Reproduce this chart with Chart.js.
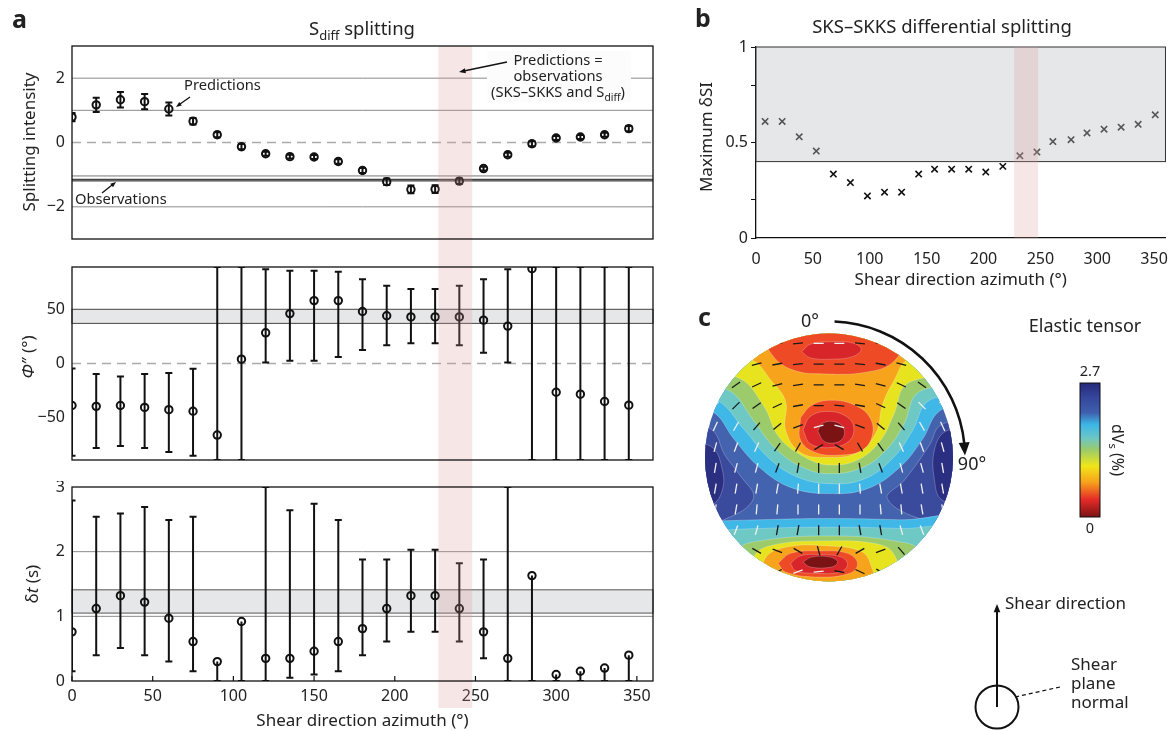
<!DOCTYPE html>
<html>
<head>
<meta charset="utf-8">
<script src="https://cdn.jsdelivr.net/npm/chart.js@4.4.1/dist/chart.umd.min.js"></script>
<style>
  body { margin: 0; width: 1172px; height: 731px; background: #fff; position: relative; overflow: hidden; }
  canvas { position: absolute; }
</style>
</head>
<body>
<canvas id="siChart" width="665" height="261" style="left:0;top:0"></canvas>
<canvas id="phiChart" width="665" height="220" style="left:0;top:261px"></canvas>
<canvas id="dtChart" width="665" height="250" style="left:0;top:481px"></canvas>
<canvas id="dsiChart" width="482" height="300" style="left:690px;top:0"></canvas>
<canvas id="tensorChart" width="482" height="431" style="left:690px;top:300px"></canvas>
<script>
// ---- data ----
const azimuth = [0, 15, 30, 45, 60, 75, 90, 105, 120, 135, 150, 165, 180, 195, 210, 225, 240, 255, 270, 285, 300, 315, 330, 345];
const xTicks = [0, 50, 100, 150, 200, 250, 300, 350];

// a, top: splitting intensity predictions
const siPred = [0.79, 1.17, 1.33, 1.27, 1.04, 0.66, 0.24, -0.13, -0.35, -0.44, -0.45, -0.59, -0.87, -1.22, -1.46, -1.45, -1.2, -0.81, -0.38, -0.04, 0.14, 0.17, 0.24, 0.43];
const siErr = [0.13, 0.22, 0.24, 0.24, 0.2, 0.1, 0.08, 0.08, 0.06, 0.06, 0.06, 0.07, 0.08, 0.1, 0.12, 0.12, 0.08, 0.06, 0.06, 0.08, 0.06, 0.06, 0.06, 0.08];
const siObs = [-1.04, -1.15, -1.19];
const siTicks = [-2, 0, 2];

// a, middle: phi''
const phiPred = [-38.7, -39.5, -38.7, -40.5, -42.6, -44, -66, 4, 28.3, 46, 58, 58, 48, 44, 43, 43, 43, 40, 34.5, 87.5, -26.5, -28.3, -35, -38.4];
const phiLow = [-85, -78, -76, -78, -81.6, -85, -89, -89, 1, 2.5, 2.5, 6, 12.5, 16.8, 18.6, 18.6, 16.8, 9.8, 1, -89, -89, -89, -89, -89];
const phiHigh = [-4.6, -9.7, -12, -9.7, -8.8, -4.8, 89, 89, 87, 85.6, 85.6, 84.7, 77.7, 71.6, 68.6, 68.6, 71.6, 77.7, 87, 89, 89, 89, 89, 89];
const phiObs = [37, 50];
const phiTicks = [-50, 0, 50];

// a, bottom: delay time
const dtPred = [0.76, 1.12, 1.32, 1.22, 0.97, 0.61, 0.3, 0.92, 0.35, 0.35, 0.46, 0.61, 0.81, 1.12, 1.32, 1.32, 1.12, 0.76, 0.35, 1.63, 0.1, 0.15, 0.2, 0.4];
const dtLow = [0.15, 0.4, 0.51, 0.4, 0.3, 0.15, 0, 0, 0, 0.05, 0.1, 0.15, 0.4, 0.61, 0.76, 0.76, 0.61, 0.35, 0, 0, 0, 0, 0, 0];
const dtHigh = [2.79, 2.54, 2.59, 2.69, 2.49, 2.54, 0.3, 0.92, 3, 2.64, 2.74, 2.49, 1.88, 1.88, 2.03, 2.03, 1.82, 1.88, 3, 1.63, 0.1, 0.15, 0.2, 0.4];
const dtObs = [1.05, 1.41];
const dtTicks = [0, 1, 2, 3];

// range where predictions = observations
const matchRange = [227, 248];

// b: SKS-SKKS differential splitting
const dsiAz = [8, 23, 38, 53, 68, 83, 98, 113, 128, 143, 157, 172, 187, 202, 217, 232, 247, 261, 277, 291, 306, 321, 336, 351];
const dsiMax = [0.61, 0.61, 0.53, 0.455, 0.335, 0.29, 0.22, 0.24, 0.24, 0.335, 0.36, 0.36, 0.36, 0.345, 0.375, 0.43, 0.45, 0.505, 0.515, 0.55, 0.57, 0.58, 0.595, 0.645];
const dsiObs = 0.4;
const dsiTicks = [0, 0.2, 0.5, 0.8, 1];
const dsiLabels = [0, 0.5, 1];

// c: dVs contours on the stereonet (x, y in % of the net radius; level 0 = 0 %, level 10 = 2.7 %)
const dvsMin = 0, dvsMax = 2.7;
const dvsBase = 8;
const wedgeL9 = [[-112, 26], [-94, 22], [-84, 2], [-72, -14], [-61, -33], [-85, -50], [-112, -54]];
const wedgeR9 = [[114, 30], [90, 26], [81, 10], [61, -18], [47, -33], [76, -50], [114, -54]];
const blobL10 = [[-112, 12], [-94, 8], [-86, -10], [-86, -26], [-94, -38], [-112, -42]];
const blobR10 = [[114, 22], [94, 21], [85, 6], [85, -18], [91, -34], [114, -38]];
const upper7 = [[-120, 127], [-120, 42], [-94, 37], [-76, 14], [-56, -8], [-31, -24], [0, -29], [31, -25], [57, -8], [75, 14], [90, 38], [122, 46], [122, 127]];
const upper6 = [[-120, 127], [-120, 53], [-90, 46], [-68, 22], [-49, 0], [-27, -15], [0, -21], [29, -17], [52, 0], [67, 21], [81, 46], [122, 54], [122, 127]];
const upper5 = [[-120, 127], [-120, 61], [-81, 54], [-61, 30], [-44, 8], [-23, -7], [0, -13], [27, -8], [46, 6], [60, 26], [73, 53], [122, 62], [122, 127]];
const upper4 = [[-120, 127], [-120, 71], [-73, 64], [-53, 42], [-40, 16], [-19, 0], [0, -6], [23, -2], [41, 13], [52, 34], [64, 60], [122, 72], [122, 127]];
const upper3 = [[-120, 127], [-120, 83], [-64, 79], [-46, 61], [-35, 45], [-35, 22], [-23, 4], [0, 0], [23, 4], [38, 20], [43, 42], [52, 61], [65, 79], [122, 83], [122, 127]];
const top2 = [[-56, 111], [-49, 87], [-31, 71], [0, 67], [33, 69], [52, 77], [61, 95], [57, 111]];
const top1 = [[-22, 85], [-15, 91], [2, 93], [19, 92], [26, 87], [19, 81], [2, 79], [-15, 80]];
const mid2 = [[-23, 32], [-14, 42], [2, 46], [21, 42], [33, 32], [35, 18], [27, 6], [9, 2], [-11, 4], [-23, 14]];
const mid1 = [[-21, 22], [-15, 33], [-1, 37], [14, 33], [20, 24], [16, 13], [1, 8], [-15, 11]];
const mid0 = [[-9, 21], [-6, 27], [3, 29], [11, 25], [12, 17], [6, 12], [-4, 13]];
const lower7 = [[-120, -52], [-56, -50], [0, -49], [57, -50], [122, -52], [122, -131], [-120, -131]];
const lower6 = [[-120, -60], [-56, -57], [0, -56], [57, -57], [122, -60], [122, -131], [-120, -131]];
const lower5 = [[-104, -115], [-76, -75], [-56, -67], [0, -63], [53, -67], [77, -76], [106, -115]];
const lower4 = [[-68, -115], [-62, -82], [-48, -71], [0, -67], [41, -70], [53, -79], [61, -115]];
const lower3 = [[-56, -115], [-52, -82], [-35, -72], [0, -71], [25, -75], [33, -84], [37, -115]];
const lower2 = [[-41, -85], [-31, -77], [-7, -75], [15, -77], [23, -85], [17, -93], [-11, -96], [-35, -92]];
const lower1 = [[-31, -85], [-23, -79], [-7, -78], [10, -80], [15, -86], [9, -92], [-11, -93], [-27, -91]];
const lower0 = [[-21, -84], [-14, -80], [1, -80], [7, -84], [2, -88], [-15, -88]];
// fast-axis orientation (degrees from horizontal, + = clockwise) on a 12 x 12 grid
const fastAxis = [
  [0, 0, 0, -5, -5, 0, 0, 5, 5, 0, 0, 0],
  [-20, -20, -15, -10, -5, 0, 0, 5, 10, 15, 20, 20],
  [-35, -35, -25, -15, -8, 0, 0, 8, 15, 25, 35, 35],
  [-50, -45, -35, -25, -10, 0, 5, 10, 25, 35, 45, 50],
  [-65, -60, -50, -40, -20, -15, 15, 20, 40, 50, 60, 65],
  [-75, -70, -65, -55, -60, -30, 30, 60, 55, 65, 70, 75],
  [-80, -75, -75, -70, -80, 90, 90, 80, 70, 75, 75, 80],
  [-80, -80, -80, -80, -85, 90, 90, 85, 80, 80, 80, 80],
  [-80, -80, -85, -85, 90, 90, 90, 90, 85, 85, 80, 80],
  [-70, -70, -75, -80, -80, 90, 90, 80, 80, 75, 70, 70],
  [-45, -45, 30, 20, 30, 75, -60, -30, -20, 50, 45, 45],
  [-20, -20, -20, -25, -20, -5, 10, 25, 30, 20, 20, 20]
];

const FF = '"Noto Sans", sans-serif';
const INK = '#222';
const pinkFill = 'rgba(220,150,150,0.24)';
const bandFill = '#e6e7e8';
const levelColors = ['#7b1214', '#d7252a', '#ee4a25', '#f7a31c', '#e8e31f', '#9ccb6b', '#6ec8c4', '#3fb8e8', '#4463ae', '#3a4a9d', '#2b2f82'];
// tick shade: dark on warm colours, light on blue / dark red
const tickShade = [
  "kkkkkwwkkkkk",
  "kkkkkkkkkkkk",
  "kkkkkkkkkkkk",
  "wkkkkkkkkkww",
  "wwkkkwwkkkww",
  "wwwkkkkkkwww",
  "wwwkkkkkkwww",
  "wwwwwwwwwwww",
  "wwwwwwwwwwww",
  "wwwkkkkkkwww",
  "kkkkkkkkkkkk",
  "kkkkwwkkkkkk"
];

Chart.defaults.font.family = FF;
Chart.defaults.color = '#333';
const minus = v => String(v).replace('-', '−');

function richText(ctx, parts, x, y, size, rot, align) {
  ctx.save();
  ctx.translate(x, y);
  ctx.rotate(rot || 0);
  ctx.textBaseline = 'middle';
  ctx.textAlign = 'left';
  ctx.fillStyle = INK;
  const fnt = p => (p.it ? 'italic ' : '') + (p.sub ? size * 0.7 : size) + 'px ' + FF;
  let w = 0;
  parts.forEach(p => { ctx.font = fnt(p); w += ctx.measureText(p.t).width; });
  let cx = align === 'left' ? 0 : -w / 2;
  parts.forEach(p => {
    ctx.font = fnt(p);
    ctx.fillText(p.t, cx, p.sub ? size * 0.32 : 0);
    cx += ctx.measureText(p.t).width;
  });
  ctx.restore();
}

function panelLetter(ctx, s, x, y) {
  ctx.save();
  ctx.fillStyle = INK;
  ctx.font = 'bold 25px ' + FF;
  ctx.textBaseline = 'alphabetic';
  ctx.fillText(s, x, y);
  ctx.restore();
}

function arrow(ctx, x1, y1, x2, y2, lw, hs) {
  const ang = Math.atan2(y2 - y1, x2 - x1);
  ctx.save();
  ctx.strokeStyle = '#111'; ctx.fillStyle = '#111'; ctx.lineWidth = lw;
  ctx.beginPath();
  ctx.moveTo(x1, y1);
  ctx.lineTo(x2 - Math.cos(ang) * hs * 0.7, y2 - Math.sin(ang) * hs * 0.7);
  ctx.stroke();
  ctx.beginPath();
  ctx.moveTo(x2, y2);
  ctx.lineTo(x2 - hs * Math.cos(ang - 0.38), y2 - hs * Math.sin(ang - 0.38));
  ctx.lineTo(x2 - hs * Math.cos(ang + 0.38), y2 - hs * Math.sin(ang + 0.38));
  ctx.closePath();
  ctx.fill();
  ctx.restore();
}

// shared drawing for the panel a / b plots: reference lines, bands, error bars, shading
function decor(cfg) {
  return {
    id: 'decor',
    beforeDatasetsDraw(chart) {
      const { ctx, chartArea: a, scales: { x, y } } = chart;
      ctx.save();
      (cfg.bands || []).forEach(b => {
        const y1 = y.getPixelForValue(b.to), y2 = y.getPixelForValue(b.from);
        ctx.fillStyle = b.fill;
        ctx.fillRect(a.left, y1, a.width, y2 - y1);
        if (b.stroke) {
          ctx.strokeStyle = b.stroke; ctx.lineWidth = 1;
          ctx.strokeRect(a.left, y1, a.width, y2 - y1);
        }
      });
      (cfg.lines || []).forEach(l => {
        const py = y.getPixelForValue(l.y);
        ctx.beginPath();
        ctx.setLineDash(l.dash || []);
        ctx.strokeStyle = l.color; ctx.lineWidth = l.width;
        ctx.moveTo(a.left, py); ctx.lineTo(a.right, py);
        ctx.stroke();
      });
      ctx.setLineDash([]);
      if (cfg.err) {
        ctx.beginPath(); ctx.rect(a.left, a.top, a.width, a.height); ctx.clip();
        ctx.strokeStyle = '#111'; ctx.lineWidth = 2;
        cfg.err.val.forEach((v, i) => {
          const px = x.getPixelForValue(cfg.err.x[i]);
          const lo = y.getPixelForValue(cfg.err.low[i]);
          const hi = y.getPixelForValue(cfg.err.high[i]);
          ctx.beginPath();
          ctx.moveTo(px, lo); ctx.lineTo(px, hi);
          if (cfg.err.low[i] !== v) { ctx.moveTo(px - 3.5, lo); ctx.lineTo(px + 3.5, lo); }
          if (cfg.err.high[i] !== v) { ctx.moveTo(px - 3.5, hi); ctx.lineTo(px + 3.5, hi); }
          ctx.stroke();
        });
      }
      ctx.restore();
    },
    afterDatasetsDraw(chart) {
      if (!cfg.pink) return;
      const { ctx, chartArea: a, scales: { x } } = chart;
      const x1 = x.getPixelForValue(cfg.pink[0]), x2 = x.getPixelForValue(cfg.pink[1]);
      const top = cfg.pinkTop !== undefined ? cfg.pinkTop : a.top;
      const bottom = cfg.pinkBottom !== undefined ? cfg.pinkBottom : a.bottom;
      ctx.save();
      ctx.fillStyle = pinkFill;
      ctx.fillRect(x1, top, x2 - x1, bottom - top);
      ctx.restore();
    },
    afterDraw(chart) {
      const { ctx, chartArea: a } = chart;
      if (cfg.frame) {
        ctx.save();
        ctx.strokeStyle = '#111'; ctx.lineWidth = 1.3;
        ctx.strokeRect(a.left, a.top, a.width, a.height);
        ctx.restore();
      }
      if (cfg.draw) cfg.draw(chart);
    }
  };
}

function circleSet(xs, ys) {
  return {
    data: xs.map((v, i) => ({ x: v, y: ys[i] })),
    pointStyle: 'circle',
    pointRadius: 3.7,
    pointHoverRadius: 3.7,
    pointBorderWidth: 2,
    pointBorderColor: '#111',
    pointBackgroundColor: 'rgba(0,0,0,0)',
    showLine: false
  };
}

function aScales(yMin, yMax, yTicks, showX) {
  const x = {
    type: 'linear', min: 0, max: 360, display: showX,
    grid: { display: false, drawTicks: false },
    border: { display: false },
    ticks: { font: { size: 16 }, color: INK, padding: 6 },
    afterBuildTicks: s => { s.ticks = xTicks.map(v => ({ value: v })); },
    title: { display: true, text: 'Shear direction azimuth (°)', font: { size: 17 }, color: INK, padding: { top: 0, bottom: 0 } }
  };
  if (showX) x.afterFit = s => { s.height = 50; };
  return {
    x: x,
    y: {
      min: yMin, max: yMax,
      grid: { display: false, drawTicks: false },
      border: { display: false },
      ticks: { font: { size: 16 }, color: INK, padding: 7, callback: minus },
      afterBuildTicks: s => { s.ticks = yTicks.map(v => ({ value: v })); },
      afterFit: s => { s.width = 72; s.paddingTop = 0; s.paddingBottom = 0; }
    }
  };
}

function baseOptions(padding, scales) {
  return {
    responsive: false,
    animation: false,
    events: [],
    layout: { padding: padding },
    plugins: { legend: { display: false }, tooltip: { enabled: false } },
    scales: scales
  };
}

// ---------- panel a, top ----------
new Chart(document.getElementById('siChart'), {
  type: 'scatter',
  data: { datasets: [circleSet(azimuth, siPred)] },
  options: baseOptions({ top: 46, right: 12, bottom: 22, left: 0 }, aScales(-3, 3, siTicks, false)),
  plugins: [decor({
    frame: true,
    pink: matchRange, pinkBottom: 261,
    lines: [
      { y: 2, color: '#8a8a8a', width: 1 },
      { y: 1, color: '#8a8a8a', width: 1 },
      { y: -2, color: '#8a8a8a', width: 1 },
      { y: 0, color: '#aaa', width: 1.5, dash: [9, 6] },
      { y: siObs[0], color: '#777', width: 1 },
      { y: siObs[1], color: '#444', width: 1.3 },
      { y: siObs[2], color: '#444', width: 1.3 }
    ],
    err: { x: azimuth, val: siPred, low: siPred.map((v, i) => v - siErr[i]), high: siPred.map((v, i) => v + siErr[i]) },
    draw(chart) {
      const ctx = chart.ctx;
      panelLetter(ctx, 'a', 12, 28);
      richText(ctx, [{ t: 'S' }, { t: 'diff', sub: true }, { t: ' splitting' }], 362, 30, 18.5);
      richText(ctx, [{ t: 'Splitting intensity' }], 30, 142, 17, -Math.PI / 2);
      richText(ctx, [{ t: 'Predictions' }], 184, 86, 14.7, 0, 'left');
      arrow(ctx, 190, 97, 176, 107, 1.3, 6);
      richText(ctx, [{ t: 'Observations' }], 75, 200, 14.7, 0, 'left');
      arrow(ctx, 102, 193, 116, 182, 1.3, 6);
      ctx.save();
      ctx.fillStyle = '#fcfcfc';
      ctx.fillRect(487, 51, 144, 51);
      ctx.restore();
      richText(ctx, [{ t: 'Predictions =' }], 558, 61, 14.7);
      richText(ctx, [{ t: 'observations' }], 558, 77, 14.7);
      richText(ctx, [{ t: '(SKS–SKKS and S' }, { t: 'diff', sub: true }, { t: ')' }], 558, 93, 14.7);
      arrow(ctx, 507, 62, 459, 72, 1.3, 7);
    }
  })]
});

// ---------- panel a, middle ----------
new Chart(document.getElementById('phiChart'), {
  type: 'scatter',
  data: { datasets: [circleSet(azimuth, phiPred)] },
  options: baseOptions({ top: 6, right: 12, bottom: 21, left: 0 }, aScales(-89, 89, phiTicks, false)),
  plugins: [decor({
    frame: true,
    pink: matchRange, pinkTop: 0, pinkBottom: 220,
    bands: [{ from: phiObs[0], to: phiObs[1], fill: bandFill, stroke: '#444' }],
    lines: [{ y: 0, color: '#aaa', width: 1.5, dash: [9, 6] }],
    err: { x: azimuth, val: phiPred, low: phiLow, high: phiHigh },
    draw(chart) {
      richText(chart.ctx, [{ t: 'Φ', it: true }, { t: '″ (°)' }], 29, 96, 17, -Math.PI / 2);
    }
  })]
});

// ---------- panel a, bottom ----------
new Chart(document.getElementById('dtChart'), {
  type: 'scatter',
  data: { datasets: [circleSet(azimuth, dtPred)] },
  options: baseOptions({ top: 6, right: 12, bottom: 0, left: 0 }, aScales(0, 3, dtTicks, true)),
  plugins: [decor({
    frame: true,
    pink: matchRange, pinkTop: 0, pinkBottom: 227,
    bands: [{ from: dtObs[0], to: dtObs[1], fill: bandFill, stroke: '#555' }],
    lines: [
      { y: 1, color: '#8a8a8a', width: 1 },
      { y: 2, color: '#8a8a8a', width: 1 }
    ],
    err: { x: azimuth, val: dtPred, low: dtLow, high: dtHigh },
    draw(chart) {
      const { ctx, chartArea: a, scales: { x } } = chart;
      ctx.save();
      ctx.strokeStyle = '#111'; ctx.lineWidth = 1.2;
      xTicks.forEach(v => {
        const px = x.getPixelForValue(v);
        ctx.beginPath(); ctx.moveTo(px, a.bottom); ctx.lineTo(px, a.bottom - 5); ctx.stroke();
      });
      ctx.restore();
      richText(ctx, [{ t: 'δ' }, { t: 't', it: true }, { t: ' (s)' }], 33, 103, 17, -Math.PI / 2);
    }
  })]
});

// ---------- panel b ----------
new Chart(document.getElementById('dsiChart'), {
  type: 'scatter',
  data: {
    datasets: [{
      data: dsiAz.map((v, i) => ({ x: v, y: dsiMax[i] })),
      pointStyle: 'crossRot',
      pointRadius: 4.5,
      pointHoverRadius: 4.5,
      pointBorderWidth: 1.6,
      pointBorderColor: dsiMax.map(v => (v > dsiObs ? '#555' : '#111')),
      showLine: false
    }]
  },
  options: baseOptions({ top: 47, right: 5, bottom: 0, left: 0 }, {
    x: {
      type: 'linear', min: 0, max: 360,
      grid: { display: false },
      border: { display: true, color: '#111', width: 1.3 },
      ticks: { font: { size: 16 }, color: INK, padding: 4 },
      afterBuildTicks: s => { s.ticks = xTicks.map(v => ({ value: v })); },
      title: { display: true, text: 'Shear direction azimuth (°)', font: { size: 17 }, color: INK, padding: { top: 0, bottom: 10 } },
      afterFit: s => { s.height = 62; }
    },
    y: {
      min: 0, max: 1,
      grid: { display: true, drawOnChartArea: false, drawTicks: true, tickLength: 5, color: '#111' },
      border: { display: true, color: '#111', width: 1.3 },
      ticks: { font: { size: 16 }, color: INK, padding: 3, callback: v => (dsiLabels.includes(v) ? String(v) : '') },
      afterBuildTicks: s => { s.ticks = dsiTicks.map(v => ({ value: v })); },
      afterFit: s => { s.width = 66; s.paddingTop = 0; s.paddingBottom = 0; }
    }
  }),
  plugins: [decor({
    pink: matchRange,
    bands: [{ from: dsiObs, to: 1, fill: bandFill, stroke: '#333' }],
    draw(chart) {
      const ctx = chart.ctx;
      panelLetter(ctx, 'b', 5, 27);
      richText(ctx, [{ t: 'SKS–SKKS differential splitting' }], 252, 28, 18.5);
      richText(ctx, [{ t: 'Maximum δSI' }], 17, 137, 17, -Math.PI / 2);
    }
  })]
});

// ---------- panel c ----------
const contourOrder = [
  [9, wedgeL9], [9, wedgeR9], [10, blobL10], [10, blobR10],
  [7, upper7], [6, upper6], [5, upper5], [4, upper4], [3, upper3],
  [2, top2], [1, top1], [2, mid2], [1, mid1], [0, mid0],
  [7, lower7], [6, lower6], [5, lower5], [4, lower4], [3, lower3],
  [2, lower2], [1, lower1], [0, lower0]
];

const tensorSets = contourOrder.map(([lvl, pts], k) => ({
  data: pts.concat([pts[0]]).map(p => ({ x: p[0], y: p[1] })),
  showLine: true,
  fill: 'shape',
  tension: 0.4,
  backgroundColor: levelColors[lvl],
  borderColor: 'rgba(255,255,255,0.35)',
  borderWidth: 0.7,
  pointRadius: 0,
  pointHoverRadius: 0,
  order: 100 - k
}));

const tickPts = [], tickRot = [], tickCol = [];
fastAxis.forEach((row, j) => {
  row.forEach((deg, i) => {
    tickPts.push({ x: -100 + (200 / 12) * (i + 0.5), y: 100 - (200 / 12) * (j + 0.5) });
    tickRot.push(deg);
    tickCol.push(tickShade[j][i] === 'w' ? '#f0f0f0' : '#1a1a1a');
  });
});
tensorSets.push({
  data: tickPts,
  showLine: false,
  pointStyle: 'line',
  pointRotation: tickRot,
  pointRadius: 5,
  pointHoverRadius: 5,
  pointBorderWidth: 1.3,
  pointBorderColor: tickCol,
  order: 0
});

const stereonet = {
  id: 'stereonet',
  beforeDatasetsDraw(chart) {
    const { ctx, chartArea: a } = chart;
    ctx.save();
    ctx.beginPath();
    ctx.arc((a.left + a.right) / 2, (a.top + a.bottom) / 2, a.width / 2, 0, Math.PI * 2);
    ctx.clip();
    ctx.fillStyle = levelColors[dvsBase];
    ctx.fillRect(a.left, a.top, a.width, a.height);
  },
  afterDatasetsDraw(chart) {
    chart.ctx.restore();
  },
  afterDraw(chart) {
    const { ctx, chartArea: a } = chart;
    const cx = (a.left + a.right) / 2, cy = (a.top + a.bottom) / 2;
    panelLetter(ctx, 'c', 8, 26);

    // rotation arrow 0° -> 90°
    const r = 136, a0 = -1.53, a1 = -0.1, tip = -0.015;
    ctx.save();
    ctx.strokeStyle = '#111'; ctx.fillStyle = '#111'; ctx.lineWidth = 2.5;
    ctx.beginPath(); ctx.arc(cx, cy, r, a0, a1); ctx.stroke();
    const tx = cx + r * Math.cos(tip), ty = cy + r * Math.sin(tip);
    const bx = cx + r * Math.cos(a1 - 0.01), by = cy + r * Math.sin(a1 - 0.01);
    const nx = Math.cos(a1), ny = Math.sin(a1);
    ctx.beginPath();
    ctx.moveTo(tx, ty);
    ctx.lineTo(bx + nx * 5.5, by + ny * 5.5);
    ctx.lineTo(bx - nx * 5.5, by - ny * 5.5);
    ctx.closePath(); ctx.fill();
    ctx.restore();
    richText(ctx, [{ t: '0°' }], 120, 22, 18);
    richText(ctx, [{ t: '90°' }], 282, 165, 18);

    // colour bar
    const bx0 = 390, by0 = 83, bw = 20, bh = 134;
    const g = ctx.createLinearGradient(0, by0, 0, by0 + bh);
    g.addColorStop(0, '#262a7a'); g.addColorStop(0.1, '#34449a'); g.addColorStop(0.22, '#3f5fae');
    g.addColorStop(0.31, '#3cb6e6'); g.addColorStop(0.41, '#6cc6c6'); g.addColorStop(0.5, '#9ccb6a');
    g.addColorStop(0.62, '#f0e619'); g.addColorStop(0.74, '#f7a21c'); g.addColorStop(0.87, '#e52b27');
    g.addColorStop(1, '#7a1315');
    ctx.save();
    ctx.fillStyle = g; ctx.fillRect(bx0, by0, bw, bh);
    ctx.strokeStyle = '#111'; ctx.lineWidth = 1; ctx.strokeRect(bx0, by0, bw, bh);
    ctx.restore();
    richText(ctx, [{ t: String(dvsMax) }], 400, 72, 14.5);
    richText(ctx, [{ t: String(dvsMin) }], 400, 229, 14.5);
    richText(ctx, [{ t: 'dV' }, { t: 's', sub: true }, { t: ' (%)' }], 427, 150, 16, Math.PI / 2);
    richText(ctx, [{ t: 'Elastic tensor' }], 395, 27, 18);

    // shear geometry sketch
    ctx.save();
    ctx.strokeStyle = '#111'; ctx.lineWidth = 2;
    ctx.beginPath(); ctx.arc(307, 407, 21.5, 0, Math.PI * 2); ctx.stroke();
    ctx.restore();
    arrow(ctx, 307, 407, 307, 304, 2, 9);
    ctx.save();
    ctx.strokeStyle = '#111'; ctx.lineWidth = 1.2; ctx.setLineDash([4, 3]);
    ctx.beginPath(); ctx.moveTo(370, 387); ctx.lineTo(325, 397); ctx.stroke();
    ctx.restore();
    richText(ctx, [{ t: 'Shear direction' }], 315, 304, 17, 0, 'left');
    richText(ctx, [{ t: 'Shear' }], 381, 365, 17, 0, 'left');
    richText(ctx, [{ t: 'plane' }], 381, 384, 17, 0, 'left');
    richText(ctx, [{ t: 'normal' }], 381, 403, 17, 0, 'left');
  }
};

new Chart(document.getElementById('tensorChart'), {
  type: 'scatter',
  data: { datasets: tensorSets },
  options: Object.assign(baseOptions({ top: 33, right: 219, bottom: 149, left: 15 }, {
    x: { type: 'linear', min: -100, max: 100, display: false },
    y: { type: 'linear', min: -100, max: 100, display: false }
  }), { elements: { line: { capBezierPoints: false } } }),
  plugins: [stereonet]
});
</script>
</body>
</html>
